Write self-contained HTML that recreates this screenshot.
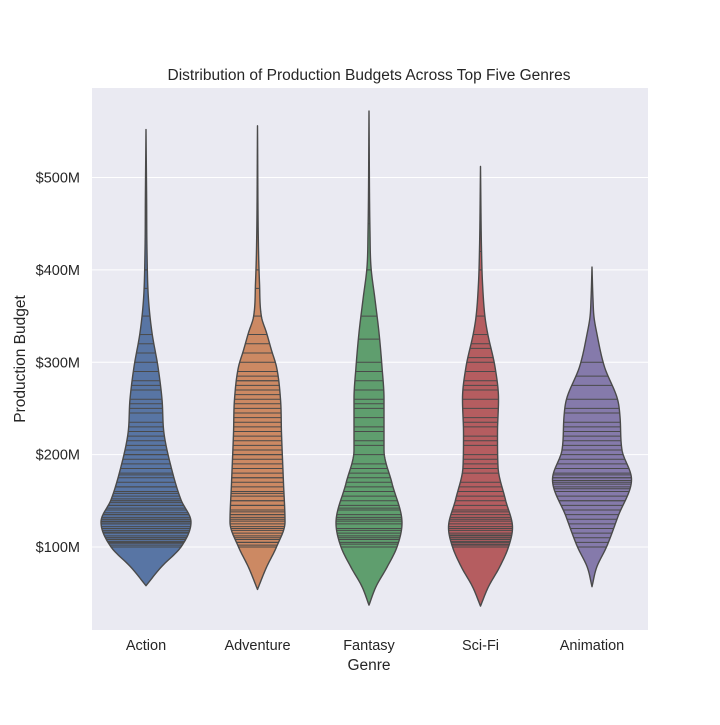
<!DOCTYPE html>
<html><head><meta charset="utf-8"><style>
body{margin:0;background:#fff;font-family:"Liberation Sans","DejaVu Sans",sans-serif;}
svg text{font-family:"Liberation Sans","DejaVu Sans",sans-serif;fill:#262626;}
</style></head><body>
<svg id="chart" width="720" height="720" viewBox="0 0 720 720" xmlns="http://www.w3.org/2000/svg">
<rect x="0" y="0" width="720" height="720" fill="#fff"/>
<rect x="92" y="88" width="556" height="542" fill="#eaeaf2"/>
<g id="grid"></g>
<g id="violins"></g>
<g id="labels"></g>
<text x="369" y="80" text-anchor="middle" font-size="15.5">Distribution of Production Budgets Across Top Five Genres</text>
<text x="369" y="670" text-anchor="middle" font-size="15.5">Genre</text>
<text transform="translate(25,359) rotate(-90)" text-anchor="middle" font-size="15.5">Production Budget</text>
</svg>
<script>
const categories = ["Action","Adventure","Fantasy","Sci-Fi","Animation"];
const colors = ["#5875a4","#cc8963","#5f9e6e","#b55d60","#857aab"];
const yTicks = [100,200,300,400,500];
const yTickLabels = ["$100M","$200M","$300M","$400M","$500M"];
// profile levels (budget $M) and half-widths (px) per genre
const actionLevels = [58,78,100,127,151,187,223,260,295,332,368,420,480,552];
const actionWidths = [0,15,35,45,35,25,18,16,12,6,2.5,1,0.6,0];
const adventureLevels = [54,78,100,127,169,223,260,295,313,332,349,386,422,556];
const adventureWidths = [0,9,19,27.5,26,24,23,19,14,9,4,2,1,0];
const fantasyLevels = [37,57,78,100,126,169,205,260,295,332,368,403,440,572];
const fantasyWidths = [0,7,18,28,33,23,15,15,13,10,6,2,1,0];
const scifiLevels = [36,57,78,100,121,151,187,223,260,295,332,349,386,422,512];
const scifiWidths = [0,8,19,28,32,25,17.5,17,18,14.5,7,4.5,2,1,0];
const animationLevels = [57,78,100,133,173,205,241,260,295,332,349,368,403];
const animationWidths = [0,4.7,14.5,26,39.5,30,28,25.5,12.5,4.7,2,1,0];
// individual budgets (sticks), $M
const actionValues = [100,102,104,105,106,108,110,110,112,115,116,118,120,120,122,125,125,127,128,130,130,132,135,135,137,140,140,142,145,145,148,150,150,152,155,158,160,160,165,165,170,175,178,180,185,190,195,200,200,205,210,215,220,225,230,235,245,250,255,260,270,275,280,290,300,310,320,330,350,380,400,550];
const adventureValues = [100,102,105,105,108,110,112,115,118,120,122,125,128,130,132,135,135,138,140,145,145,150,150,155,158,160,165,170,175,175,180,185,190,195,200,200,205,210,215,220,225,230,235,240,245,250,255,260,265,270,275,280,280,285,290,300,310,320,330,350,380,400,555];
const fantasyValues = [100,103,105,108,110,112,115,118,120,120,125,128,130,132,135,140,142,145,150,155,160,165,170,175,180,185,190,200,210,215,225,230,240,250,255,260,270,280,290,300,325,350,400,450,570];
const scifiValues = [100,102,103,105,106,108,110,110,112,113,115,118,120,122,125,128,130,132,135,138,140,145,150,155,160,165,170,180,185,190,195,200,210,215,220,230,235,240,250,260,270,275,280,290,300,305,315,320,330,350,400,420,510];
const animationValues = [100,105,110,115,120,125,130,135,140,145,150,150,155,160,163,165,168,170,172,175,175,178,180,185,190,195,200,205,210,215,220,225,230,235,245,250,260,275,285,300];
const levelsAll = [actionLevels,adventureLevels,fantasyLevels,scifiLevels,animationLevels];
const widthsAll = [actionWidths,adventureWidths,fantasyWidths,scifiWidths,animationWidths];
const valuesAll = [actionValues,adventureValues,fantasyValues,scifiValues,animationValues];

const NS="http://www.w3.org/2000/svg";
const y0=639.3, pxPerM=0.9235;
function yScale(v){return y0 - v*pxPerM;}
function xScale(i){return 146 + i*111.5;}
// monotone cubic (Fritsch-Carlson) interpolation of half-width
function halfW(xs,ys,v){
  const n=xs.length;
  if(v<=xs[0]||v>=xs[n-1]) return 0;
  const d=[],m=[];
  for(let k=0;k<n-1;k++) d.push((ys[k+1]-ys[k])/(xs[k+1]-xs[k]));
  m.push(d[0]);
  for(let k=1;k<n-1;k++) m.push(d[k-1]*d[k]<=0?0:(d[k-1]+d[k])/2);
  m.push(d[n-2]);
  for(let k=0;k<n-1;k++){
    if(d[k]===0){m[k]=0;m[k+1]=0;continue;}
    const a=m[k]/d[k],b=m[k+1]/d[k],s=a*a+b*b;
    if(s>9){const t=3/Math.sqrt(s);m[k]=t*a*d[k];m[k+1]=t*b*d[k];}
  }
  let k=0; while(v>xs[k+1]) k++;
  const h=xs[k+1]-xs[k], t=(v-xs[k])/h;
  const h00=2*t*t*t-3*t*t+1,h10=t*t*t-2*t*t+t,h01=-2*t*t*t+3*t*t,h11=t*t*t-t*t;
  return Math.max(0,h00*ys[k]+h10*h*m[k]+h01*ys[k+1]+h11*h*m[k+1]);
}
function mk(tag,attrs,parent){const e=document.createElementNS(NS,tag);for(const k in attrs)e.setAttribute(k,attrs[k]);parent.appendChild(e);return e;}
const grid=document.getElementById('grid'), labels=document.getElementById('labels'), vg=document.getElementById('violins');
yTicks.forEach((t,i)=>{
  const l=mk('line',{x1:92,x2:648,y1:yScale(t),y2:yScale(t),stroke:'#fff','stroke-width':1},grid);
  
  
  const tx=mk('text',{x:80,y:yScale(t)+5,'text-anchor':'end','font-size':14.5},labels);
  tx.textContent=yTickLabels[i];
  
  
});
categories.forEach((c,i)=>{
  const cx=xScale(i), L=levelsAll[i], W=widthsAll[i];
  const g=mk('g',{},vg);
  
  
  const lo=L[0], hi=L[L.length-1], n=300; let right=[], left=[];
  for(let k=0;k<=n;k++){const v=lo+(hi-lo)*k/n;const w=halfW(L,W,v);right.push((cx+w).toFixed(2)+','+yScale(v).toFixed(2));left.unshift((cx-w).toFixed(2)+','+yScale(v).toFixed(2));}
  const p=mk('polygon',{points:right.concat(left).join(' '),fill:colors[i],stroke:'#4a4a4a','stroke-width':1.4,'stroke-linejoin':'round'},g);
  
  
  valuesAll[i].forEach(v=>{
    const w=halfW(L,W,v);
    const s=mk('line',{x1:cx-w,x2:cx+w,y1:yScale(v),y2:yScale(v),stroke:'#4a4a4a','stroke-width':1},g);
    
    
  });
  const tx=mk('text',{x:cx,y:650,'text-anchor':'middle','font-size':14.5},labels);
  tx.textContent=c;
  
  
});
</script>
</body></html>
